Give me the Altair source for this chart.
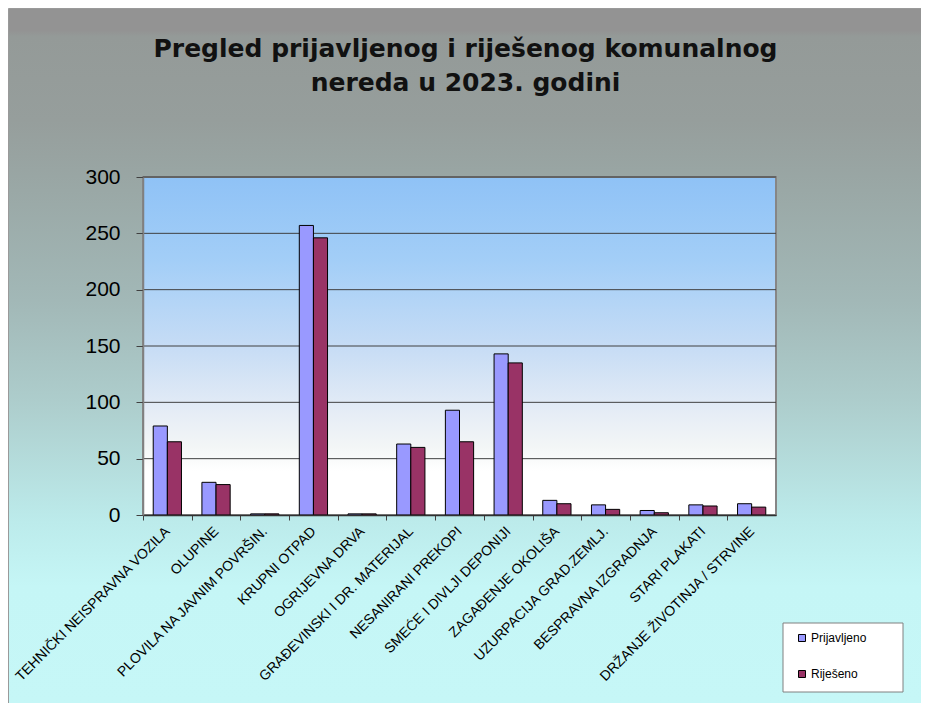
import altair as alt
import pandas as pd

# ---------------- data ----------------
categories = [
    "TEHNIČKI NEISPRAVNA VOZILA",
    "OLUPINE",
    "PLOVILA NA JAVNIM POVRŠIN.",
    "KRUPNI OTPAD",
    "OGRIJEVNA DRVA",
    "GRAĐEVINSKI I DR. MATERIJAL",
    "NESANIRANI PREKOPI",
    "SMEĆE I DIVLJI DEPONIJI",
    "ZAGAĐENJE OKOLIŠA",
    "UZURPACIJA GRAD.ZEMLJ.",
    "BESPRAVNA IZGRADNJA",
    "STARI PLAKATI",
    "DRŽANJE ŽIVOTINJA / STRVINE",
]
prijavljeno = [79, 29, 1, 257, 1, 63, 93, 143, 13, 9, 4, 9, 10]
rijeseno = [65, 27, 1, 246, 1, 60, 65, 135, 10, 5, 2, 8, 7]
series = ["Prijavljeno", "Riješeno"]
series_colors = ["#9999ff", "#993366"]
y_ticks = [0, 50, 100, 150, 200, 250, 300]
title_lines = ["Pregled prijavljenog i riješenog komunalnog", "nereda u 2023. godini"]

# ---------------- layout ----------------
W, H = 633, 338
PL, PT, PR, PB = 135, 169, 145, 188
FONT = "Liberation Sans"

rows = []
for c, p, r in zip(categories, prijavljeno, rijeseno):
    rows.append({"kategorija": c, "serija": series[0], "vrijednost": p})
    rows.append({"kategorija": c, "serija": series[1], "vrijednost": r})
df = pd.DataFrame(rows)
one = pd.DataFrame({"k": [0]})
grid_df = pd.DataFrame({"v": y_ticks[1:]})

CH = H + PT + PB


def off(page_y):
    return max(0.0, min(1.0, (page_y - 8) / CH))


outer_grad = alt.LinearGradient(
    gradient="linear", x1=0, x2=0, y1=0, y2=1,
    stops=[
        alt.GradientStop(color="#939393", offset=0),
        alt.GradientStop(color="#939393", offset=off(30)),
        alt.GradientStop(color="#949a98", offset=off(36)),
        alt.GradientStop(color="#969e9c", offset=off(120)),
        alt.GradientStop(color="#9aa8a6", offset=off(190)),
        alt.GradientStop(color="#a2b8b7", offset=off(300)),
        alt.GradientStop(color="#adcdcc", offset=off(400)),
        alt.GradientStop(color="#bcebeb", offset=off(520)),
        alt.GradientStop(color="#c5f6f6", offset=off(585)),
        alt.GradientStop(color="#c6f7f7", offset=1),
    ],
)

plot_grad = alt.LinearGradient(
    gradient="linear", x1=0, x2=0, y1=0, y2=1,
    stops=[
        alt.GradientStop(color="#8fc2f6", offset=0),
        alt.GradientStop(color="#a3cef7", offset=0.25),
        alt.GradientStop(color="#c6dcf5", offset=0.5),
        alt.GradientStop(color="#e6edf6", offset=0.7),
        alt.GradientStop(color="#f3f6f6", offset=0.8),
        alt.GradientStop(color="#ffffff", offset=0.87),
        alt.GradientStop(color="#ffffff", offset=1),
    ],
)

outer_bg = alt.Chart(one).mark_rect(fill=outer_grad, stroke="#9a9a9a", strokeWidth=1).encode(
    x=alt.value(-PL + 0.5), x2=alt.value(W + PR + 2), y=alt.value(-PT + 0.5), y2=alt.value(H + PB + 2)
)

plot_bg = alt.Chart(one).mark_rect(fill=plot_grad, stroke="#868686", strokeWidth=2).encode(
    x=alt.value(0), x2=alt.value(W), y=alt.value(0), y2=alt.value(H)
)

y_scale = alt.Scale(domain=[0, 300], nice=False, zero=True)

grid = alt.Chart(grid_df).mark_rule(color="#404040", strokeWidth=1).encode(
    y=alt.Y("v:Q", scale=y_scale, title=None)
)

step = W / len(categories)

bars = alt.Chart(df).mark_bar(stroke="black", strokeWidth=1).encode(
    x=alt.X(
        "kategorija:N",
        sort=categories,
        title=None,
        scale=alt.Scale(paddingInner=0.42, paddingOuter=0.21),
        axis=alt.Axis(
            labelAngle=-45,
            labelAlign="right",
            labelBaseline="middle",
            labelFont=FONT,
            labelFontSize=14,
            labelColor="black",
            labelPadding=9,
            labelOffset=step / 2,
            tickOffset=-step / 2,
            tickSize=5,
            tickColor="#404040",
            domainColor="#303030",
            domainWidth=1.5,
            labelLimit=400,
            zindex=1,
        ),
    ),
    xOffset=alt.XOffset("serija:N", sort=series, scale=alt.Scale(paddingInner=0, paddingOuter=0)),
    y=alt.Y(
        "vrijednost:Q",
        scale=y_scale,
        title=None,
        axis=alt.Axis(
            values=y_ticks,
            grid=False,
            labelFont=FONT,
            labelFontSize=21,
            labelColor="black",
            tickSize=7,
            tickColor="#404040",
            labelPadding=16,
            domainColor="#808080",
            domainWidth=1.5,
            zindex=1,
        ),
    ),
    color=alt.Color(
        "serija:N",
        sort=series,
        scale=alt.Scale(domain=series, range=series_colors),
        legend=alt.Legend(
            title=None,
            orient="none",
            legendX=653,
            legendY=455,
            padding=0,
            symbolType="square",
            symbolSize=49,
            symbolStrokeColor="black",
            symbolStrokeWidth=1,
            labelFont=FONT,
            labelFontSize=12,
            labelColor="black",
            rowPadding=24,
            labelOffset=3,
        ),
    ),
)

legend_box = alt.Chart(one).mark_rect(fill="white", stroke="#808080", strokeWidth=1).encode(
    x=alt.value(783 - 8 - PL), x2=alt.value(903 - 8 - PL),
    y=alt.value(623 - 8 - PT), y2=alt.value(692 - 8 - PT)
)

title_x = 465.5 - 8 - PL
TFONT = "DejaVu Sans"
t1 = alt.Chart(one).mark_text(
    font=TFONT, fontSize=25, fontWeight="bold", color="#111111", align="center", baseline="alphabetic"
).encode(x=alt.value(title_x), y=alt.value(57 - 8 - PT), text=alt.value(title_lines[0]))
t2 = alt.Chart(one).mark_text(
    font=TFONT, fontSize=25, fontWeight="bold", color="#111111", align="center", baseline="alphabetic"
).encode(x=alt.value(title_x), y=alt.value(91 - 8 - PT), text=alt.value(title_lines[1]))

chart = alt.layer(outer_bg, plot_bg, grid, bars, legend_box, t1, t2).properties(
    width=W,
    height=H,
    autosize=alt.AutoSizeParams(type="none"),
    padding={"left": PL, "top": PT, "right": PR, "bottom": PB},
    background="white",
).configure_view(stroke=None)

chart.save("out.html", embed_options={"renderer": "svg", "actions": False})
